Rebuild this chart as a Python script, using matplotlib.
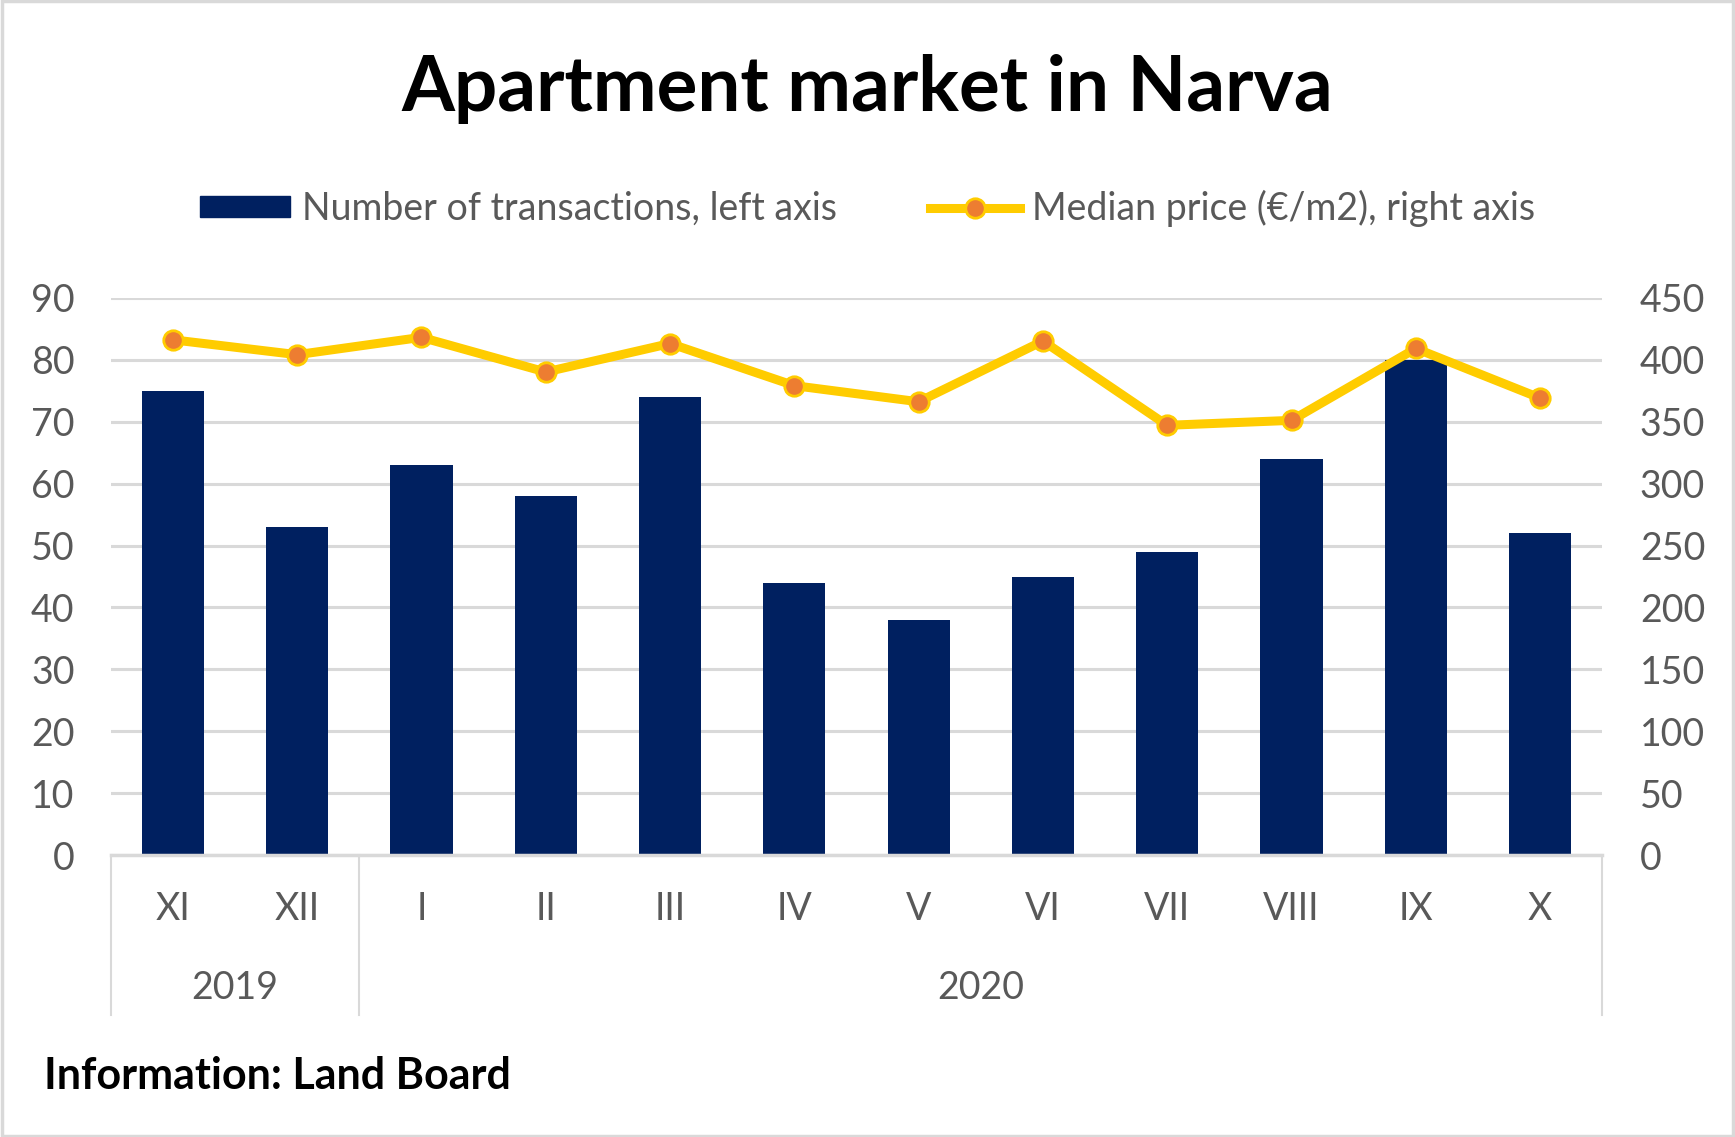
import numpy as np
import matplotlib
matplotlib.use("Agg")
import matplotlib.pyplot as plt
from matplotlib.lines import Line2D
from matplotlib.patches import Patch, Rectangle

plt.rcParams['font.family'] = ['Lato', 'DejaVu Sans']

months = ['XI', 'XII', 'I', 'II', 'III', 'IV', 'V', 'VI', 'VII', 'VIII', 'IX', 'X']
years = ['2019', '2020']
year_span = [2, 10]  # number of months in each year group
transactions = [75, 53, 63, 58, 74, 44, 38, 45, 49, 64, 80, 52]
median_price = [416, 404, 418, 390, 413, 379, 366, 415, 347, 351, 409, 369]

navy = '#002060'
gold = '#FFCC00'
orange = '#ED7D31'
grey_txt = '#595959'
grid_c = '#D9D9D9'

fig = plt.figure(figsize=(17.35, 11.37), dpi=100)
ax = fig.add_axes([0.0638, 0.2477, 0.8597, 0.4905])
ax2 = ax.twinx()

x = np.arange(len(months))
ax.bar(x, transactions, width=0.5, color=navy, zorder=2)
ax2.plot(x, median_price, color=gold, lw=6.5, marker='o', ms=14,
         mfc=orange, mec=gold, mew=2, zorder=3)

ax.set_xlim(-0.5, len(months) - 0.5)
ax.set_ylim(0, 90)
ax.set_yticks(np.arange(0, 91, 10))
ax2.set_ylim(0, 450)
ax2.set_yticks(np.arange(0, 451, 50))
ax.yaxis.grid(True, color=grid_c, lw=2.2, zorder=0)
ax.set_axisbelow(True)

for a in (ax, ax2):
    for s in a.spines.values():
        s.set_visible(False)
ax.spines['bottom'].set_visible(True)
ax.spines['bottom'].set_color(grid_c)
ax.spines['bottom'].set_linewidth(2.5)

ax.tick_params(axis='y', length=0, pad=26, labelsize=27, labelcolor=grey_txt)
ax2.tick_params(axis='y', length=0, pad=27, labelsize=27, labelcolor=grey_txt)
ax.set_xticks(x)
ax.set_xticklabels(months)
ax.tick_params(axis='x', length=0, pad=26, labelsize=27, labelcolor=grey_txt)

# multi-level category axis
trans = ax.get_xaxis_transform()
edges = [-0.5]
for n in year_span:
    edges.append(edges[-1] + n)
for e in edges:
    ax.plot([e, e], [0, -0.286], transform=trans, color=grid_c, lw=1.5,
            clip_on=False)
for i, yr in enumerate(years):
    ax.text((edges[i] + edges[i + 1]) / 2, -0.238, yr, transform=trans,
            ha='center', va='center', fontsize=27, color=grey_txt)

fig.text(0.5, 0.922, 'Apartment market in Narva', ha='center', va='center',
         fontsize=55, fontweight='bold', color='black')

handles = [Patch(color=navy),
           Line2D([], [], color=gold, lw=6.5, marker='o', ms=14,
                  mfc=orange, mec=gold, mew=2)]
labels = ['Number of transactions, left axis', 'Median price (€/m2), right axis']
fig.legend(handles, labels, loc='center', bbox_to_anchor=(0.5, 0.817), ncol=2,
           frameon=False, fontsize=27, labelcolor=grey_txt, handlelength=2.4,
           handleheight=0.5, columnspacing=2.5, handletextpad=0.3)

fig.text(0.0254, 0.054, 'Information: Land Board', ha='left', va='center',
         fontsize=31, fontweight='bold', color='black')

fig.patches.append(Rectangle((0.001, 0.001), 0.998, 0.998, transform=fig.transFigure,
                             fill=False, edgecolor=grid_c, lw=2.5))

fig.savefig('out.png', dpi=100)
